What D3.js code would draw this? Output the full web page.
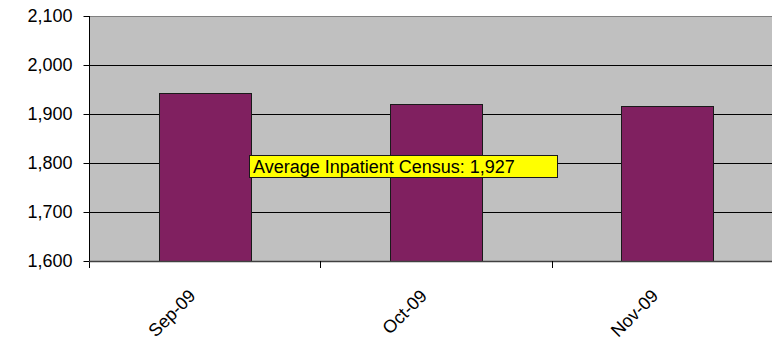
<!DOCTYPE html>
<html>
<head>
<meta charset="utf-8">
<script src="https://cdn.jsdelivr.net/npm/d3@7"></script>
<style>
  html, body { margin: 0; padding: 0; background: #fff; }
  svg { display: block; font-family: "Liberation Sans", Arial, sans-serif; }
</style>
</head>
<body>
<svg id="chart" width="772" height="342"></svg>
<script>
// Monthly average inpatient census
const months = ["Sep-09", "Oct-09", "Nov-09"];
const census = [1942, 1921, 1917];
const yTicks = [1600, 1700, 1800, 1900, 2000, 2100];
const averageLabel = "Average Inpatient Census: ";

const svg = d3.select("#chart");
const plot = { left: 89, right: 783, top: 16, bottom: 261 };
const fontSize = "18px";

const xOuter = d3.scaleBand().domain(months).range([plot.left, plot.right]);
const y = d3.scaleLinear().domain([1600, 2100]).range([plot.bottom, plot.top]);

// plot background
svg.append("rect")
  .attr("x", plot.left).attr("y", plot.top)
  .attr("width", plot.right - plot.left).attr("height", plot.bottom - plot.top)
  .attr("fill", "#c0c0c0");
svg.append("line")
  .attr("x1", plot.left).attr("x2", plot.right)
  .attr("y1", plot.top + 0.5).attr("y2", plot.top + 0.5)
  .attr("stroke", "#808080").attr("stroke-width", 1);

// horizontal gridlines
svg.append("g").selectAll("line")
  .data(yTicks.filter(t => t > 1600 && t < 2100))
  .join("line")
  .attr("x1", plot.left).attr("x2", plot.right)
  .attr("y1", d => Math.round(y(d)) + 0.5).attr("y2", d => Math.round(y(d)) + 0.5)
  .attr("stroke", "#000").attr("stroke-width", 1);

// bars
svg.append("g").selectAll("rect")
  .data(months.map((m, i) => ({ m, v: census[i] })))
  .join("rect")
  .attr("x", d => Math.round(xOuter(d.m) + xOuter.bandwidth() / 2 - 46) + 0.5)
  .attr("width", 92)
  .attr("y", d => Math.round(y(d.v)) + 0.5)
  .attr("height", d => plot.bottom - Math.round(y(d.v)))
  .attr("fill", "#802060")
  .attr("stroke", "#1a1a1a").attr("stroke-width", 1);

// y axis
const yAxis = d3.axisLeft(y).tickValues(yTicks).tickSize(6).tickPadding(11)
  .tickFormat(d3.format(","));
const gy = svg.append("g").attr("transform", `translate(${plot.left + 0.5},0)`).call(yAxis);
gy.select(".domain").remove();
gy.append("line").attr("x1", 0).attr("x2", 0).attr("y1", plot.top).attr("y2", plot.bottom + 7).attr("stroke", "#000");
gy.selectAll(".tick line").attr("stroke", "#000");
gy.selectAll(".tick text").attr("fill", "#000").style("font-size", fontSize)
  .style("font-family", "'Liberation Sans', Arial, sans-serif");

// x axis
svg.append("line")
  .attr("x1", plot.left).attr("x2", plot.right)
  .attr("y1", plot.bottom + 0.5).attr("y2", plot.bottom + 0.5)
  .attr("stroke", "#404040").attr("stroke-width", 1.5);
svg.append("g").selectAll("line")
  .data(months.slice(1))
  .join("line")
  .attr("x1", d => Math.round(xOuter(d)) + 0.5).attr("x2", d => Math.round(xOuter(d)) + 0.5)
  .attr("y1", plot.bottom).attr("y2", plot.bottom + 7)
  .attr("stroke", "#000");

svg.append("g").selectAll("text")
  .data(months)
  .join("text")
  .attr("transform", d => `translate(${xOuter(d) + xOuter.bandwidth() / 2 - 17},${plot.bottom + 27}) rotate(-45)`)
  .attr("text-anchor", "end")
  .attr("dy", "0.71em")
  .style("font-size", fontSize)
  .attr("fill", "#000")
  .text(d => d);

// average label
const avg = d3.mean(census);
const label = svg.append("g").attr("transform", "translate(249,155)");
label.append("rect")
  .attr("x", 0.5).attr("y", 0.5).attr("width", 308).attr("height", 22)
  .attr("fill", "#ffff00").attr("stroke", "#1a1a1a").attr("stroke-width", 1);
label.append("text")
  .attr("x", 4).attr("y", 18)
  .style("font-size", fontSize)
  .attr("fill", "#000")
  .text(averageLabel + d3.format(",.0f")(avg));
</script>
</body>
</html>
